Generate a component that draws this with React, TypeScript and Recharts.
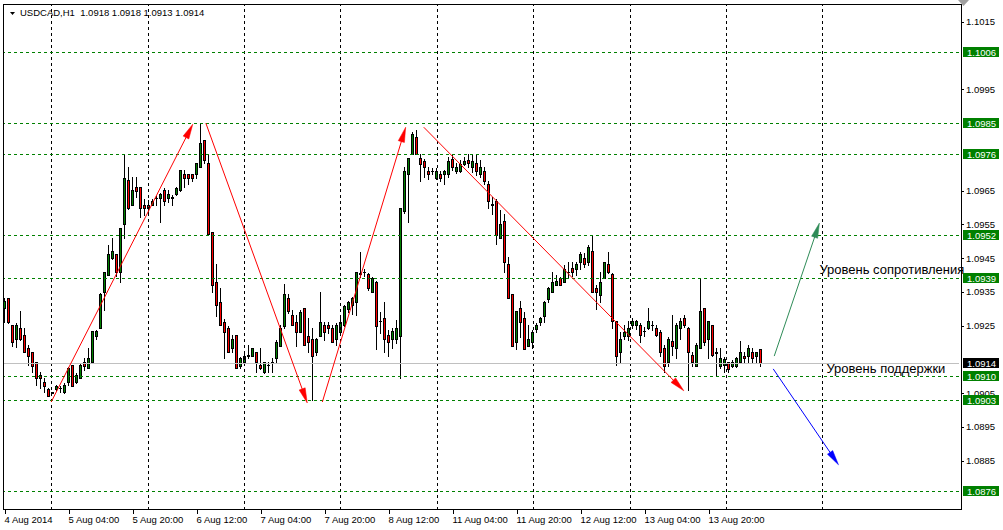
import React from "react";
import {
  ComposedChart,
  Bar,
  XAxis,
  YAxis,
  ReferenceLine,
  ReferenceDot,
} from "recharts";

// USDCAD H1 candles, 4 Aug 2014 12:00 .. 14 Aug 2014 09:00
const opens = [
  1.09301, 1.09331, 1.09252, 1.09212, 1.09242, 1.09222, 1.09183, 1.09171, 1.09141, 1.09104,
  1.09082, 1.09063, 1.09052, 1.09061, 1.09064, 1.09053, 1.09082, 1.09134, 1.09082, 1.09094,
  1.09141, 1.09124, 1.09141, 1.0922, 1.09242, 1.09351, 1.094, 1.09451, 1.09461, 1.0941,
  1.0955, 1.09681, 1.09609, 1.0966, 1.0966, 1.09609, 1.09609, 1.09609, 1.09627, 1.09629,
  1.09652, 1.09629, 1.09629, 1.09639, 1.09652, 1.09699, 1.09699, 1.09699, 1.09699, 1.09719,
  1.098, 1.09731, 1.09528, 1.0938, 1.09321, 1.09262, 1.09242, 1.09183, 1.09222, 1.09132,
  1.09141, 1.09161, 1.09161, 1.09171, 1.09134, 1.09112, 1.09133, 1.0914, 1.09153, 1.09191,
  1.0925, 1.09331, 1.09282, 1.09262, 1.09232, 1.09301, 1.0922, 1.09212, 1.09171, 1.0922,
  1.09252, 1.09252, 1.09242, 1.09212, 1.09232, 1.09252, 1.09299, 1.09311, 1.09321, 1.09403,
  1.09408, 1.09402, 1.09351, 1.0938, 1.09263, 1.09272, 1.09222, 1.0921, 1.0921, 1.0922,
  1.0959, 1.09698, 1.09758, 1.09808, 1.09748, 1.09739, 1.09709, 1.09708, 1.09689, 1.09699,
  1.09699, 1.09699, 1.09745, 1.09709, 1.09709, 1.09729, 1.0974, 1.09719, 1.09731, 1.09699,
  1.09709, 1.09669, 1.09609, 1.0962, 1.0951, 1.0956, 1.09432, 1.09343, 1.09203, 1.09301,
  1.09272, 1.09191, 1.09203, 1.0924, 1.0926, 1.0928, 1.09329, 1.09351, 1.09372, 1.0939,
  1.0938, 1.09409, 1.0942, 1.09418, 1.09439, 1.09451, 1.09439, 1.09471, 1.09361, 1.09341,
  1.0939, 1.09432, 1.09402, 1.09264, 1.09171, 1.0922, 1.0922, 1.09252, 1.09252, 1.09252,
  1.09233, 1.09242, 1.09251, 1.09242, 1.09232, 1.09183, 1.09141, 1.09205, 1.09183, 1.09242,
  1.09272, 1.09242, 1.09163, 1.09132, 1.09183, 1.09301, 1.0921, 1.09252, 1.0917, 1.09132,
  1.09134, 1.09141, 1.09132, 1.09132, 1.09141, 1.09161, 1.09161, 1.09171, 1.09161, 1.0918,
];

const highs = [
  1.09331, 1.09333, 1.09252, 1.09257, 1.09293, 1.09242, 1.09193, 1.09173, 1.09141, 1.09114,
  1.09094, 1.09064, 1.09055, 1.09074, 1.0907, 1.0908, 1.09129, 1.09134, 1.09109, 1.09138,
  1.09153, 1.09183, 1.09234, 1.09237, 1.09346, 1.0941, 1.09489, 1.0951, 1.09461, 1.0954,
  1.0976, 1.09721, 1.09691, 1.09691, 1.09662, 1.09624, 1.09622, 1.09624, 1.09634, 1.09642,
  1.09657, 1.09652, 1.09637, 1.09662, 1.09711, 1.09711, 1.09699, 1.09699, 1.09731, 1.09849,
  1.098, 1.0976, 1.09528, 1.09433, 1.09361, 1.09269, 1.09249, 1.09222, 1.09222, 1.09158,
  1.09168, 1.09193, 1.09185, 1.09171, 1.09183, 1.09141, 1.09143, 1.09153, 1.09208, 1.09252,
  1.09373, 1.09344, 1.09296, 1.09282, 1.09296, 1.09301, 1.09272, 1.09242, 1.09214, 1.09351,
  1.09262, 1.09262, 1.09252, 1.09257, 1.09272, 1.09311, 1.09324, 1.09336, 1.0941, 1.09469,
  1.09417, 1.09405, 1.09395, 1.09383, 1.09291, 1.09321, 1.09237, 1.09242, 1.09267, 1.09599,
  1.09719, 1.09748, 1.09824, 1.09831, 1.09758, 1.09745, 1.09719, 1.09716, 1.09716, 1.09709,
  1.09711, 1.0975, 1.0976, 1.09731, 1.0974, 1.0975, 1.0976, 1.0976, 1.0976, 1.0974,
  1.09721, 1.09679, 1.0963, 1.09624, 1.09592, 1.0958, 1.09454, 1.09343, 1.09293, 1.09323,
  1.09291, 1.09252, 1.09237, 1.09257, 1.09277, 1.09324, 1.09364, 1.0941, 1.094, 1.09395,
  1.0943, 1.09439, 1.09439, 1.09439, 1.09469, 1.09464, 1.09489, 1.0952, 1.0937, 1.0941,
  1.09439, 1.09469, 1.09405, 1.09264, 1.09232, 1.09252, 1.09264, 1.09272, 1.09267, 1.09257,
  1.09247, 1.09301, 1.09265, 1.09252, 1.09237, 1.09193, 1.09217, 1.09282, 1.09257, 1.09272,
  1.09282, 1.09247, 1.09171, 1.09198, 1.09392, 1.09301, 1.09264, 1.09252, 1.09183, 1.09183,
  1.09158, 1.09143, 1.09148, 1.09158, 1.09205, 1.09173, 1.09193, 1.09183, 1.09173, 1.0918,
];

const lows = [
  1.09262, 1.09257, 1.0919, 1.09188, 1.09208, 1.09171, 1.09134, 1.09114, 1.09074, 1.09064,
  1.09055, 1.09043, 1.0905, 1.0906, 1.09055, 1.0905, 1.09074, 1.09072, 1.0908, 1.09094,
  1.09119, 1.09124, 1.09141, 1.09212, 1.09242, 1.09296, 1.094, 1.09449, 1.09398, 1.0938,
  1.0951, 1.09597, 1.09607, 1.09632, 1.09571, 1.09578, 1.09588, 1.09607, 1.09607, 1.09558,
  1.09607, 1.09617, 1.09607, 1.09637, 1.0965, 1.0966, 1.09669, 1.09679, 1.09689, 1.09719,
  1.09731, 1.09521, 1.09351, 1.0928, 1.09252, 1.09153, 1.09171, 1.09173, 1.09124, 1.09124,
  1.09141, 1.09153, 1.09161, 1.09114, 1.09121, 1.09109, 1.09114, 1.09114, 1.09141, 1.09191,
  1.09242, 1.09289, 1.09252, 1.09191, 1.09232, 1.09193, 1.09173, 1.0903, 1.09163, 1.0922,
  1.09208, 1.09227, 1.09201, 1.09193, 1.09232, 1.0925, 1.09291, 1.09286, 1.09282, 1.09395,
  1.09398, 1.09356, 1.09351, 1.09181, 1.09227, 1.09171, 1.09161, 1.09183, 1.09198, 1.09094,
  1.09583, 1.09558, 1.09758, 1.09758, 1.09679, 1.09691, 1.09686, 1.09699, 1.09686, 1.09679,
  1.09669, 1.09691, 1.09711, 1.09701, 1.09706, 1.09726, 1.09719, 1.09706, 1.09696, 1.09691,
  1.09671, 1.09599, 1.0958, 1.09491, 1.0951, 1.0941, 1.09331, 1.09191, 1.09181, 1.09217,
  1.09181, 1.09191, 1.09183, 1.09232, 1.09252, 1.09262, 1.09321, 1.09351, 1.0937, 1.0937,
  1.0938, 1.0939, 1.09398, 1.094, 1.09418, 1.09425, 1.0943, 1.09351, 1.09299, 1.09321,
  1.0939, 1.09405, 1.09242, 1.09134, 1.09141, 1.09212, 1.09208, 1.09242, 1.0924, 1.09203,
  1.09219, 1.0924, 1.09237, 1.0922, 1.09161, 1.09114, 1.09132, 1.09163, 1.09153, 1.09212,
  1.09247, 1.0906, 1.09132, 1.09132, 1.09183, 1.09193, 1.09153, 1.09161, 1.09102, 1.09124,
  1.09112, 1.09114, 1.09129, 1.09129, 1.09141, 1.09141, 1.09141, 1.09143, 1.09141, 1.0913,
];

const closes = [
  1.09324, 1.09262, 1.09203, 1.09252, 1.09212, 1.09171, 1.09161, 1.09132, 1.09094, 1.09094,
  1.09072, 1.09043, 1.09053, 1.09072, 1.09064, 1.09074, 1.09124, 1.09072, 1.09104, 1.09134,
  1.09132, 1.09153, 1.09234, 1.09234, 1.09343, 1.0941, 1.09461, 1.09471, 1.0941, 1.0954,
  1.09688, 1.09599, 1.09652, 1.0965, 1.09599, 1.09599, 1.09599, 1.0962, 1.09629, 1.09639,
  1.0962, 1.09639, 1.0963, 1.09659, 1.09711, 1.09689, 1.09689, 1.09689, 1.09731, 1.0979,
  1.0974, 1.09521, 1.09372, 1.09311, 1.09252, 1.09232, 1.09171, 1.09212, 1.09124, 1.09153,
  1.09161, 1.09163, 1.09183, 1.09141, 1.09124, 1.09141, 1.09134, 1.09141, 1.09203, 1.09242,
  1.09343, 1.09293, 1.09252, 1.09232, 1.09291, 1.09193, 1.09203, 1.09161, 1.09212, 1.09262,
  1.09232, 1.09242, 1.09203, 1.09252, 1.09262, 1.09309, 1.09321, 1.09331, 1.0941, 1.09405,
  1.0941, 1.09361, 1.09392, 1.0925, 1.09264, 1.0921, 1.09203, 1.09234, 1.09242, 1.09599,
  1.09709, 1.09748, 1.09817, 1.09758, 1.09729, 1.09719, 1.09699, 1.09709, 1.09709, 1.09689,
  1.09709, 1.09739, 1.09719, 1.09719, 1.09729, 1.09739, 1.09731, 1.09739, 1.09709, 1.09719,
  1.09679, 1.0962, 1.0961, 1.0952, 1.0955, 1.09439, 1.09331, 1.09191, 1.09293, 1.09262,
  1.09181, 1.09212, 1.09232, 1.09252, 1.09272, 1.09321, 1.09361, 1.0938, 1.09382, 1.0937,
  1.09418, 1.0941, 1.0941, 1.09432, 1.09461, 1.09432, 1.09482, 1.09351, 1.09351, 1.0938,
  1.09439, 1.0941, 1.09264, 1.09161, 1.09212, 1.0923, 1.09242, 1.09264, 1.09264, 1.09222,
  1.09234, 1.09264, 1.09252, 1.09222, 1.09171, 1.09132, 1.09212, 1.09191, 1.09252, 1.09264,
  1.09252, 1.09171, 1.09141, 1.09193, 1.09293, 1.09203, 1.09264, 1.09163, 1.09171, 1.09153,
  1.09151, 1.09122, 1.09141, 1.09153, 1.09171, 1.09153, 1.09183, 1.09153, 1.09171, 1.0914,
];

// bar slots on the time axis (candles + empty chart shift on the right)
const SLOTS = 239;

const timeTickIdx = [0, 16, 32, 48, 64, 80, 96, 112, 128, 144, 160, 176];
const timeTickLabels = [
  "4 Aug 2014", "5 Aug 04:00", "5 Aug 20:00", "6 Aug 12:00", "7 Aug 04:00", "7 Aug 20:00",
  "8 Aug 12:00", "11 Aug 04:00", "11 Aug 20:00", "12 Aug 12:00", "13 Aug 04:00", "13 Aug 20:00",
];
// day separators (vertical grid)
const dayIdx = [12, 36, 60, 84, 108, 132, 156, 180, 204];

const priceTicks = [1.1015, 1.0995, 1.0965, 1.0955, 1.0945, 1.0935, 1.0925, 1.0905, 1.0895, 1.0885];
const levels = [1.1006, 1.0985, 1.0976, 1.0952, 1.0939, 1.091, 1.0903, 1.0876];
const bid = 1.0914;

// trend arrows: [barIndex, price] start and end
const arrowFrom = [[12, 1.09024], [50.5, 1.0985], [79.5, 1.09024], [104.75, 1.09838], [192, 1.0916], [191.75, 1.09122]];
const arrowTo = [[47.25, 1.09847], [75.75, 1.09021], [100.25, 1.09838], [169.5, 1.09057], [203.25, 1.09554], [208, 1.08838]];
const arrowColors = ["#ff0000", "#ff0000", "#ff0000", "#ff0000", "#2e8b57", "#0000ff"];

const notes = [
  { text: "Уровень сопротивления", at: [203.25, 1.09403] },
  { text: "Уровень поддержки", at: [205, 1.09111] },
];

const FONT = "'Liberation Sans', Arial, sans-serif";
const BULL = "#008000";
const BEAR = "#ff0000";
const LEVEL = "#008000";

const rows = Array.from({ length: SLOTS }, (_, i) => ({
  i,
  open: i < opens.length ? opens[i] : null,
  high: i < highs.length ? highs[i] : null,
  low: i < lows.length ? lows[i] : null,
  close: i < closes.length ? closes[i] : null,
}));

// plain ticks first, the level boxes last so they are painted on top
const axisTicks = [...priceTicks, bid, ...levels];

function Candle(props: any) {
  const { x, y, width, height, payload } = props;
  if (!payload || payload.open == null || x == null || isNaN(y)) return <g />;
  const top = Math.min(y, y + height);
  const h = Math.abs(height);
  const range = payload.high - payload.low;
  const k = range > 0 ? h / range : 0;
  const cx = Math.floor(x + width / 2) + 0.5;
  const bt = Math.round(top + (payload.high - Math.max(payload.open, payload.close)) * k) + 0.5;
  const bb = Math.round(top + (payload.high - Math.min(payload.open, payload.close)) * k) + 0.5;
  const up = payload.close >= payload.open;
  return (
    <g shapeRendering="crispEdges">
      <line x1={cx} x2={cx} y1={Math.round(top)} y2={Math.round(top + h) + 1} stroke="#000" />
      {bb - bt < 1 ? (
        <line x1={cx - 1.5} x2={cx + 1.5} y1={bt} y2={bt} stroke="#000" />
      ) : (
        <rect x={cx - 1} y={bt} width={2} height={bb - bt} fill={up ? BULL : BEAR} stroke="#000" />
      )}
    </g>
  );
}

function TimeTick(props: any) {
  const { x, payload } = props;
  const n = timeTickIdx.indexOf(payload.value);
  if (n < 0) return <g />;
  const px = Math.round(x) + 0.5;
  return (
    <g>
      <line x1={px} x2={px} y1={510} y2={514} stroke="#000" shapeRendering="crispEdges" />
      <text x={px - 1} y={523} fontSize={9.5} fontFamily={FONT} fill="#000">
        {timeTickLabels[n]}
      </text>
    </g>
  );
}

function PriceTick(props: any) {
  const { y, payload } = props;
  const v = payload.value;
  const py = Math.round(y);
  if (v === bid || levels.includes(v)) {
    return (
      <g>
        <rect x={963} y={py - 5} width={36} height={10} fill={v === bid ? "#000" : LEVEL} />
        <text x={967} y={py + 3.5} fontSize={9.5} fontFamily={FONT} fill="#fff">
          {v.toFixed(4)}
        </text>
      </g>
    );
  }
  return (
    <g>
      <line x1={961} x2={964} y1={py + 0.5} y2={py + 0.5} stroke="#000" shapeRendering="crispEdges" />
      <text x={966} y={y + 3.5} fontSize={9.5} fontFamily={FONT} fill="#000">
        {v.toFixed(4)}
      </text>
    </g>
  );
}

function hLine(color: string, dash?: string) {
  return (p: any) => {
    const y = Math.round(p.y1) + 0.5;
    return <line x1={p.x1} x2={p.x2 + 1} y1={y} y2={y} stroke={color} strokeDasharray={dash} shapeRendering="crispEdges" />;
  };
}

function gridShape(p: any) {
  const x = Math.round(p.x1) + 0.5;
  return <line x1={x} x2={x} y1={p.y1} y2={p.y2} stroke="#000" strokeDasharray="3 3" shapeRendering="crispEdges" />;
}

function arrowShape(color: string) {
  return (p: any) => {
    const { x1, y1, x2, y2 } = p;
    const dx = x2 - x1;
    const dy = y2 - y1;
    const len = Math.hypot(dx, dy) || 1;
    const ux = dx / len;
    const uy = dy / len;
    const hl = 15;
    const hw = 3.2;
    const bx = x2 - ux * hl;
    const by = y2 - uy * hl;
    const pts = `${x2},${y2} ${bx - uy * hw},${by + ux * hw} ${bx + uy * hw},${by - ux * hw}`;
    return (
      <g>
        <line x1={x1} y1={y1} x2={bx + ux * 2} y2={by + uy * 2} stroke={color} strokeWidth={1} />
        <polygon points={pts} fill={color} stroke={color} strokeWidth={0.5} />
      </g>
    );
  };
}

function noteShape(text: string) {
  return (p: any) => (
    <text x={p.cx} y={p.cy} fontSize={13} fontFamily={FONT} fill="#000">
      {text}
    </text>
  );
}

export default function App() {
  return (
    <div style={{ position: "absolute", left: 0, top: 0, width: 1003, height: 530, background: "#fff", overflow: "hidden" }}>
      <ComposedChart width={1003} height={530} data={rows} margin={{ top: 4, right: 0, bottom: 0, left: 3 }}>
        <XAxis
          xAxisId="c"
          dataKey="i"
          type="category"
          height={20}
          axisLine={false}
          tickLine={false}
          ticks={timeTickIdx}
          interval={0}
          tick={<TimeTick />}
        />
        <XAxis xAxisId="n" type="number" domain={[-0.5, SLOTS - 0.5]} allowDataOverflow hide />
        <YAxis
          yAxisId="p"
          orientation="right"
          width={44}
          type="number"
          domain={[1.08704, 1.10203]}
          allowDataOverflow
          ticks={axisTicks}
          interval={0}
          axisLine={false}
          tickLine={false}
          tick={<PriceTick />}
        />
        {dayIdx.map((d) => (
          <ReferenceLine key={`d${d}`} xAxisId="n" yAxisId="p" x={d} shape={gridShape} />
        ))}
        <ReferenceLine xAxisId="n" yAxisId="p" y={bid} shape={hLine("#c0c0c0")} />
        {levels.map((v) => (
          <ReferenceLine key={`l${v}`} xAxisId="n" yAxisId="p" y={v} shape={hLine(LEVEL, "3 3")} />
        ))}
        <Bar
          xAxisId="c"
          yAxisId="p"
          dataKey={(d: any) => (d.open == null ? null : [d.low, d.high])}
          shape={(p: any) => <Candle {...p} />}
          isAnimationActive={false}
        />
        {arrowFrom.map((f, k) => (
          <ReferenceLine
            key={`a${k}`}
            xAxisId="n"
            yAxisId="p"
            segment={[
              { x: f[0], y: f[1] },
              { x: arrowTo[k][0], y: arrowTo[k][1] },
            ]}
            shape={arrowShape(arrowColors[k])}
          />
        ))}
        {notes.map((n) => (
          <ReferenceDot key={n.text} xAxisId="n" yAxisId="p" x={n.at[0]} y={n.at[1]} r={0} shape={noteShape(n.text)} />
        ))}
      </ComposedChart>
      <svg width={1003} height={530} style={{ position: "absolute", left: 0, top: 0, pointerEvents: "none" }}>
        <rect x={3.5} y={4.5} width={958} height={505} fill="none" stroke="#000" shapeRendering="crispEdges" />
        <polygon points="10,12 15,12 12.5,15" fill="#000" />
        <text x={20} y={16} fontSize={9.5} fontFamily={FONT} fill="#000" xmlSpace="preserve" style={{ whiteSpace: "pre" }}>
          {"USDCAD,H1  1.0918 1.0918 1.0913 1.0914"}
        </text>
        <polygon points="958,0 969,0 963.5,6" fill="#a0a0a0" />
      </svg>
    </div>
  );
}
